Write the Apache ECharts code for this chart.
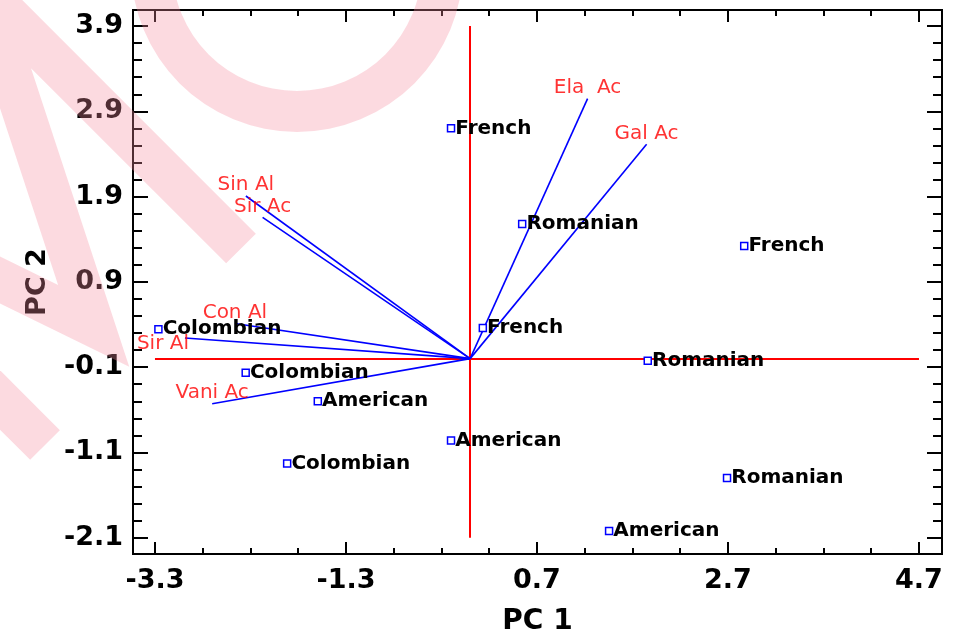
<!DOCTYPE html>
<html>
<head>
<meta charset="utf-8">
<script src="https://cdn.jsdelivr.net/npm/echarts@6/dist/echarts.min.js"></script>
<style>html,body{margin:0;padding:0;background:#fff;}#c{width:960px;height:635px;}</style>
</head>
<body>
<div id="c"></div>
<script>
// ---- data ----
const sampleNames = ['French','Romanian','French','French','Romanian','Romanian','American','American','American','Colombian','Colombian','Colombian'];
const samplePC1 = [-0.20, 0.545, 2.87, 0.133, 1.86, 2.69, 1.455, -0.20, -1.595, -3.264, -2.35, -1.916];
const samplePC2 = [2.70, 1.58, 1.32, 0.36, -0.025, -1.40, -2.02, -0.96, -0.50, 0.345, -0.165, -1.23];

const loadingNames = ['Ela  Ac','Gal Ac','Sin Al','Sir Ac','Con Al','Sir Al','Vani Ac'];
const loadingPC1 = [1.230, 1.848, -2.348, -2.173, -2.463, -2.986, -2.701];
const loadingPC2 = [3.048, 2.513, 1.907, 1.657, 0.412, 0.242, -0.529];

const xTickLabels = [-3.3, -1.3, 0.7, 2.7, 4.7];
const yTickLabels = [-2.1, -1.1, -0.1, 0.9, 1.9, 2.9, 3.9];
const xMinorTicks = [-3.3,-2.8,-2.3,-1.8,-1.3,-0.8,-0.3,0.2,0.7,1.2,1.7,2.2,2.7,3.2,3.7,4.2,4.7];
const yMinorTicks = [-2.1,-1.9,-1.7,-1.5,-1.3,-1.1,-0.9,-0.7,-0.5,-0.3,-0.1,0.1,0.3,0.5,0.7,0.9,1.1,1.3,1.5,1.7,1.9,2.1,2.3,2.5,2.7,2.9,3.1,3.3,3.5,3.7,3.9];

const XMIN = -3.53, XMAX = 4.941, YMIN = -2.291, YMAX = 4.088;

// ---- chart ----
const FONT = 'DejaVu Sans';
const chart = echarts.init(document.getElementById('c'), null, {renderer: 'canvas'});
const fmt = v => Number(v).toFixed(1);

function mkAxis(dim, pos, vals, len, major) {
  const a = {
    type: 'value', min: dim === 'x' ? XMIN : YMIN, max: dim === 'x' ? XMAX : YMAX,
    position: pos,
    axisLine: {show: true, onZero: false, lineStyle: {color: '#000', width: 2}},
    axisTick: {show: true, inside: true, length: len, customValues: vals, lineStyle: {color: '#000', width: 2}},
    axisLabel: {show: false},
    splitLine: {show: false},
    silent: true
  };
  if (major) {
    a.axisLabel = {show: true, customValues: vals, formatter: fmt, color: '#000',
      fontFamily: FONT, fontWeight: 'bold', fontSize: 27, margin: dim === 'x' ? 13 : 10};
  }
  return a;
}

const xMain = mkAxis('x', 'bottom', xTickLabels, 12, true);
xMain.name = 'PC 1';
xMain.nameLocation = 'middle';
xMain.nameGap = 54;
xMain.nameTextStyle = {fontFamily: FONT, fontWeight: 'bold', fontSize: 28, color: '#000'};

const yMain = mkAxis('y', 'left', yTickLabels, 15, true);
yMain.name = 'PC 2';
yMain.nameLocation = 'middle';
yMain.nameGap = 82;
yMain.nameRotate = 90;
yMain.nameTextStyle = {fontFamily: FONT, fontWeight: 'bold', fontSize: 27, color: '#000'};

const xTopMajor = mkAxis('x', 'top', xTickLabels, 12, false);
const yRightMajor = mkAxis('y', 'right', yTickLabels, 15, false);

const option = {
  animation: false,
  backgroundColor: '#fff',
  grid: {left: 133, right: 18, top: 10, bottom: 81, containLabel: false, outerBoundsMode: 'none'},
  xAxis: [
    xMain,
    mkAxis('x', 'bottom', xMinorTicks, 6, false),
    xTopMajor,
    mkAxis('x', 'top', xMinorTicks, 6, false)
  ],
  yAxis: [
    yMain,
    mkAxis('y', 'left', yMinorTicks, 9, false),
    yRightMajor,
    mkAxis('y', 'right', yMinorTicks, 9, false)
  ],
  series: [
    {
      type: 'lines', coordinateSystem: 'cartesian2d', xAxisIndex: 0, yAxisIndex: 0, silent: true, z: 2,
      lineStyle: {color: '#ff0000', width: 2, opacity: 1},
      data: [
        {coords: [[xTickLabels[0], 0], [xTickLabels[xTickLabels.length - 1], 0]]},
        {coords: [[0, yTickLabels[0]], [0, yTickLabels[yTickLabels.length - 1]]]}
      ]
    },
    {
      type: 'lines', coordinateSystem: 'cartesian2d', xAxisIndex: 0, yAxisIndex: 0, silent: true, z: 3,
      lineStyle: {color: '#0000ff', width: 1.6, opacity: 1},
      data: loadingNames.map((n, i) => ({coords: [[0, 0], [loadingPC1[i], loadingPC2[i]]]}))
    },
    {
      type: 'scatter', xAxisIndex: 0, yAxisIndex: 0, silent: true, z: 4,
      symbol: 'rect', symbolSize: 7,
      itemStyle: {color: '#ffffff', borderColor: '#0000ff', borderWidth: 1.5, opacity: 1},
      label: {show: true, position: 'right', distance: 0, formatter: '{b}', color: '#000',
        fontFamily: FONT, fontWeight: 'bold', fontSize: 20},
      data: sampleNames.map((n, i) => ({name: n, value: [samplePC1[i], samplePC2[i]]}))
    },
    {
      type: 'scatter', xAxisIndex: 0, yAxisIndex: 0, silent: true, z: 5,
      symbolSize: 0,
      label: {show: true, position: 'top', distance: 1, formatter: '{b}', color: '#ff0000',
        fontFamily: FONT, fontSize: 20},
      data: loadingNames.map((n, i) => {
        const d = {name: n, value: [loadingPC1[i], loadingPC2[i]]};
        if (n === 'Sir Al') d.label = {position: 'left', distance: 0, offset: [4, 6]};
        return d;
      })
    }
  ],
  graphic: [
    {type: 'polyline', silent: true, z: 100,
      shape: {points: [[241, 248.5], [-16.5, -9], [93.7, 325.9], [-40, 260.4]]},
      style: {stroke: 'rgba(245,140,160,0.32)', fill: null, lineWidth: 42, lineJoin: 'miter', miterLimit: 10, lineCap: 'butt'}},
    {type: 'polyline', silent: true, z: 100,
      shape: {points: [[-50, 350], [45, 445]]},
      style: {stroke: 'rgba(245,140,160,0.32)', fill: null, lineWidth: 42, lineCap: 'butt'}},
    {type: 'ring', silent: true, z: 100,
      shape: {cx: 297, cy: -34, r: 166, r0: 125},
      style: {fill: 'rgba(245,140,160,0.32)'}}
  ]
};
chart.setOption(option);
</script>
</body>
</html>
